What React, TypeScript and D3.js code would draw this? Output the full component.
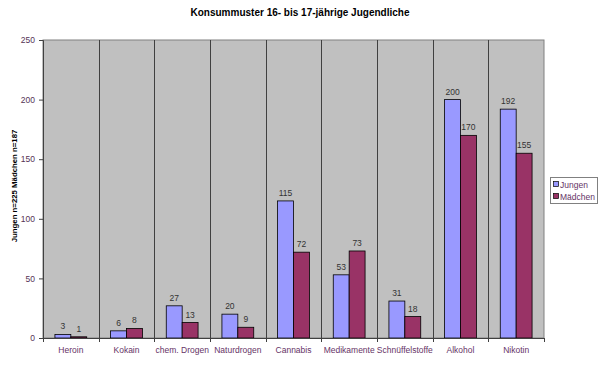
import React, { useRef, useEffect } from 'react';
import * as d3 from 'd3';

const categories = ['Heroin', 'Kokain', 'chem. Drogen', 'Naturdrogen', 'Cannabis', 'Medikamente', 'Schnüffelstoffe', 'Alkohol', 'Nikotin'];
const jungen = [3, 6, 27, 20, 115, 53, 31, 200, 192];
const maedchen = [1, 8, 13, 9, 72, 73, 18, 170, 155];
const seriesNames = ['Jungen', 'Mädchen'];
const yTicks = [0, 50, 100, 150, 200, 250];

const colors = ['#9999ff', '#993366'];
const font = '"Liberation Sans", Arial, sans-serif';

const App: React.FC = () => {
  const svgRef = useRef<SVGSVGElement>(null);

  useEffect(() => {
    if (!svgRef.current) return;
    const svg = d3.select(svgRef.current);
    svg.selectAll('*').remove();

    const left = 43, right = 544, top = 40, bottom = 338;

    const x0 = d3.scaleBand().domain(categories).range([left, right]).paddingInner(0).paddingOuter(0);
    const x1 = d3.scaleBand().domain(seriesNames).range([0, x0.bandwidth()]).paddingInner(0).paddingOuter(0.75);
    const y = d3.scaleLinear().domain([0, 250]).range([bottom, top]);

    svg.append('rect').attr('width', 600).attr('height', 365).attr('fill', '#ffffff');

    // plot area
    svg.append('rect')
      .attr('x', left).attr('y', top)
      .attr('width', right - left).attr('height', bottom - top)
      .attr('fill', '#c0c0c0')
      .attr('stroke', '#808080').attr('stroke-width', 1);

    // vertical gridlines at category boundaries
    categories.slice(1).forEach(c => {
      const xx = Math.round(x0(c)!) + 0.5;
      svg.append('line')
        .attr('x1', xx).attr('x2', xx).attr('y1', top).attr('y2', bottom)
        .attr('stroke', '#404040').attr('stroke-width', 1);
    });

    const data = categories.map((c, i) => ({ c, vals: [jungen[i], maedchen[i]] }));

    const groups = svg.append('g').selectAll('g').data(data).enter().append('g')
      .attr('transform', d => `translate(${x0(d.c)},0)`);

    groups.selectAll('rect').data(d => d.vals.map((v, k) => ({ v, k }))).enter().append('rect')
      .attr('x', d => x1(seriesNames[d.k])!)
      .attr('y', d => y(d.v))
      .attr('width', x1.bandwidth())
      .attr('height', d => bottom - y(d.v))
      .attr('fill', d => colors[d.k])
      .attr('stroke', '#000000').attr('stroke-width', 0.8);

    groups.selectAll('text').data(d => d.vals.map((v, k) => ({ v, k }))).enter().append('text')
      .attr('x', d => x1(seriesNames[d.k])! + x1.bandwidth() / 2)
      .attr('y', d => y(d.v) - 5)
      .attr('text-anchor', 'middle')
      .attr('font-family', font).attr('font-size', 8.5)
      .attr('fill', '#333333')
      .text(d => d.v);

    // axes
    const yAxis = svg.append('g').attr('transform', `translate(${left},0)`)
      .call(d3.axisLeft(y).tickValues(yTicks).tickSize(4).tickPadding(4));
    yAxis.select('.domain').attr('stroke', '#404040');
    yAxis.selectAll('line').attr('stroke', '#404040');
    yAxis.selectAll('text').attr('font-family', font).attr('font-size', 8.5).attr('fill', '#553355');

    const xAxis = svg.append('g').attr('transform', `translate(0,${bottom})`)
      .call(d3.axisBottom(x0).tickSize(0).tickPadding(9));
    xAxis.select('.domain').attr('stroke', '#404040');
    xAxis.selectAll('text').attr('font-family', font).attr('font-size', 8.5).attr('fill', '#663366');
    categories.forEach((c, i) => {
      const xx = Math.round(x0(c)!) + 0.5;
      svg.append('line').attr('x1', xx).attr('x2', xx).attr('y1', bottom).attr('y2', bottom + 4).attr('stroke', '#404040');
      if (i === categories.length - 1) {
        svg.append('line').attr('x1', right + 0.5).attr('x2', right + 0.5).attr('y1', bottom).attr('y2', bottom + 4).attr('stroke', '#404040');
      }
    });

    // title
    svg.append('text')
      .attr('x', 300).attr('y', 16)
      .attr('text-anchor', 'middle')
      .attr('font-family', font).attr('font-size', 10).attr('font-weight', 'bold')
      .attr('fill', '#000000')
      .text('Konsummuster 16- bis 17-jährige Jugendliche');

    // y-axis label
    svg.append('text')
      .attr('transform', `translate(17,186) rotate(-90)`)
      .attr('text-anchor', 'middle')
      .attr('font-family', font).attr('font-size', 7.8).attr('font-weight', 'bold')
      .attr('fill', '#000000')
      .text('Jungen n=225 Mädchen n=187');

    // legend
    const lg = svg.append('g').attr('transform', 'translate(550,177)');
    lg.append('rect').attr('x', 0.5).attr('y', 0.5).attr('width', 47).attr('height', 26)
      .attr('fill', '#ffffff').attr('stroke', '#808080');
    seriesNames.forEach((s, i) => {
      lg.append('rect').attr('x', 3.5).attr('y', 4.5 + i * 12).attr('width', 5).attr('height', 5)
        .attr('fill', colors[i]).attr('stroke', '#000000').attr('stroke-width', 0.7);
      lg.append('text').attr('x', 10).attr('y', 10.5 + i * 12)
        .attr('font-family', font).attr('font-size', 8.5).attr('fill', '#663366')
        .text(s);
    });
  }, []);

  return <svg ref={svgRef} width={600} height={365} style={{ display: 'block', position: 'absolute', left: 0, top: 0 }} />;
};

export default App;
